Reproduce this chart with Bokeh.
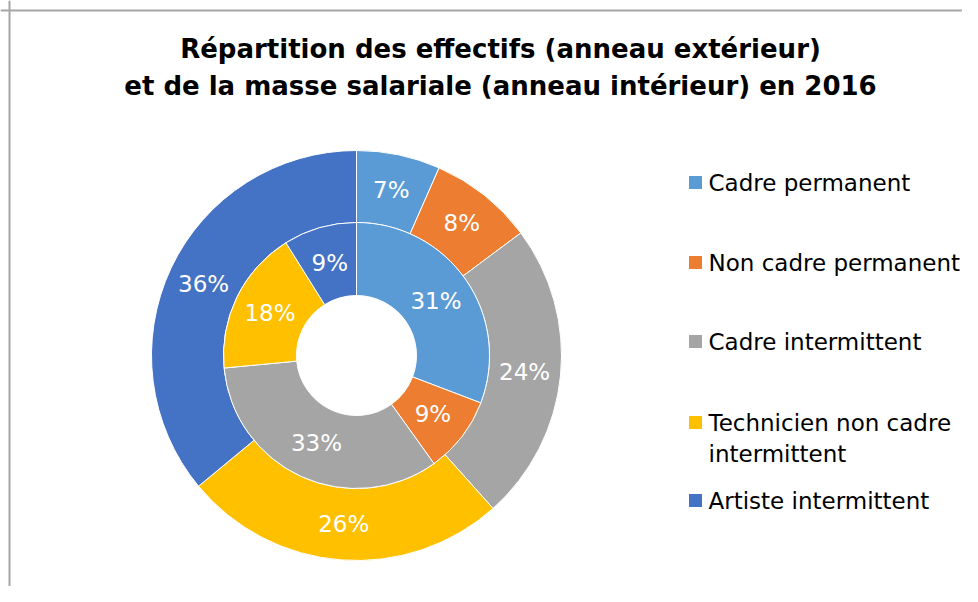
import math
from bokeh.plotting import figure
from bokeh.models import Range1d, Span, ColumnDataSource
from bokeh.core.properties import value
from bokeh.embed import file_html
from bokeh.resources import INLINE

# ---- data ----
title_lines = ["Répartition des effectifs (anneau extérieur)",
               "et de la masse salariale (anneau intérieur) en 2016"]
categories = ["Cadre permanent", "Non cadre permanent", "Cadre intermittent",
              "Technicien non cadre intermittent", "Artiste intermittent"]
legend_labels = [["Cadre permanent"], ["Non cadre permanent"], ["Cadre intermittent"],
                 ["Technicien non cadre", "intermittent"], ["Artiste intermittent"]]
effectifs = [6.6, 8.2, 23.6, 25.6, 36.0]        # outer ring (%)
masse_salariale = [30.8, 9.3, 33.4, 17.6, 8.9]  # inner ring (%)
colors = ["#5B9BD5", "#ED7D31", "#A5A5A5", "#FFC000", "#4472C4"]

W, H = 962, 586
p = figure(width=W, height=H, output_backend="svg", toolbar_location=None,
           x_range=Range1d(0, W), y_range=Range1d(0, H),
           x_axis_type=None, y_axis_type=None, min_border=0)
p.grid.visible = False
p.outline_line_color = None
p.background_fill_color = "white"
p.border_fill_color = "white"

def py(Y):  # screen y -> data y
    return H - Y

def px(X):
    return X

cx, cy = px(356), py(355)
R_out, R_mid, R_in = 205, 133, 60

def ring(vals, r0, r1):
    total = sum(vals)
    starts, ends, lx, ly, labels = [], [], [], [], []
    cum = 0.0
    for v in vals:
        a0 = math.pi / 2 - 2 * math.pi * cum / total
        cum += v
        a1 = math.pi / 2 - 2 * math.pi * cum / total
        starts.append(a0)
        ends.append(a1)
        am = (a0 + a1) / 2
        rm = (r0 + r1) / 2
        lx.append(cx + rm * math.cos(am))
        ly.append(cy + rm * math.sin(am))
        labels.append(f"{round(v)}%")
    src = ColumnDataSource(dict(start=starts, end=ends, color=colors,
                                lx=lx, ly=ly, label=labels))
    p.annular_wedge(x=cx, y=cy, inner_radius=r0, outer_radius=r1,
                    start_angle="start", end_angle="end", direction="clock",
                    fill_color="color", line_color="white", line_width=1,
                    source=src)
    p.text(x="lx", y="ly", text="label", source=src, text_color="white",
           text_font=value("DejaVu Sans"), text_font_size="23px",
           text_align="center", text_baseline="middle")

ring(effectifs, R_mid, R_out)
ring(masse_salariale, R_in, R_mid)

# title
for i, t in enumerate(title_lines):
    p.text(x=[px(500)], y=[py(48 + 37 * i)], text=[t], text_color="black",
           text_font=value("DejaVu Sans"), text_font_style="bold",
           text_font_size="26px", text_align="center", text_baseline="middle")

# legend
row_y = [182, 262, 341, 422, 500]
for lab, col, Y in zip(legend_labels, colors, row_y):
    p.rect(x=[px(695)], y=[py(Y)], width=13, height=13, fill_color=col, line_color=None)
    for j, line in enumerate(lab):
        p.text(x=[px(708)], y=[py(Y + 31 * j)], text=[line], text_color="black",
               text_font=value("DejaVu Sans"), text_font_size="23px",
               text_align="left", text_baseline="middle")

# frame (left and top edges of the chart area)
p.add_layout(Span(location=9, dimension="height", line_color="#a6a6a6", line_width=2))
p.add_layout(Span(location=py(10), dimension="width", line_color="#a6a6a6", line_width=2))

open("out.html", "w").write(file_html(p, INLINE))
